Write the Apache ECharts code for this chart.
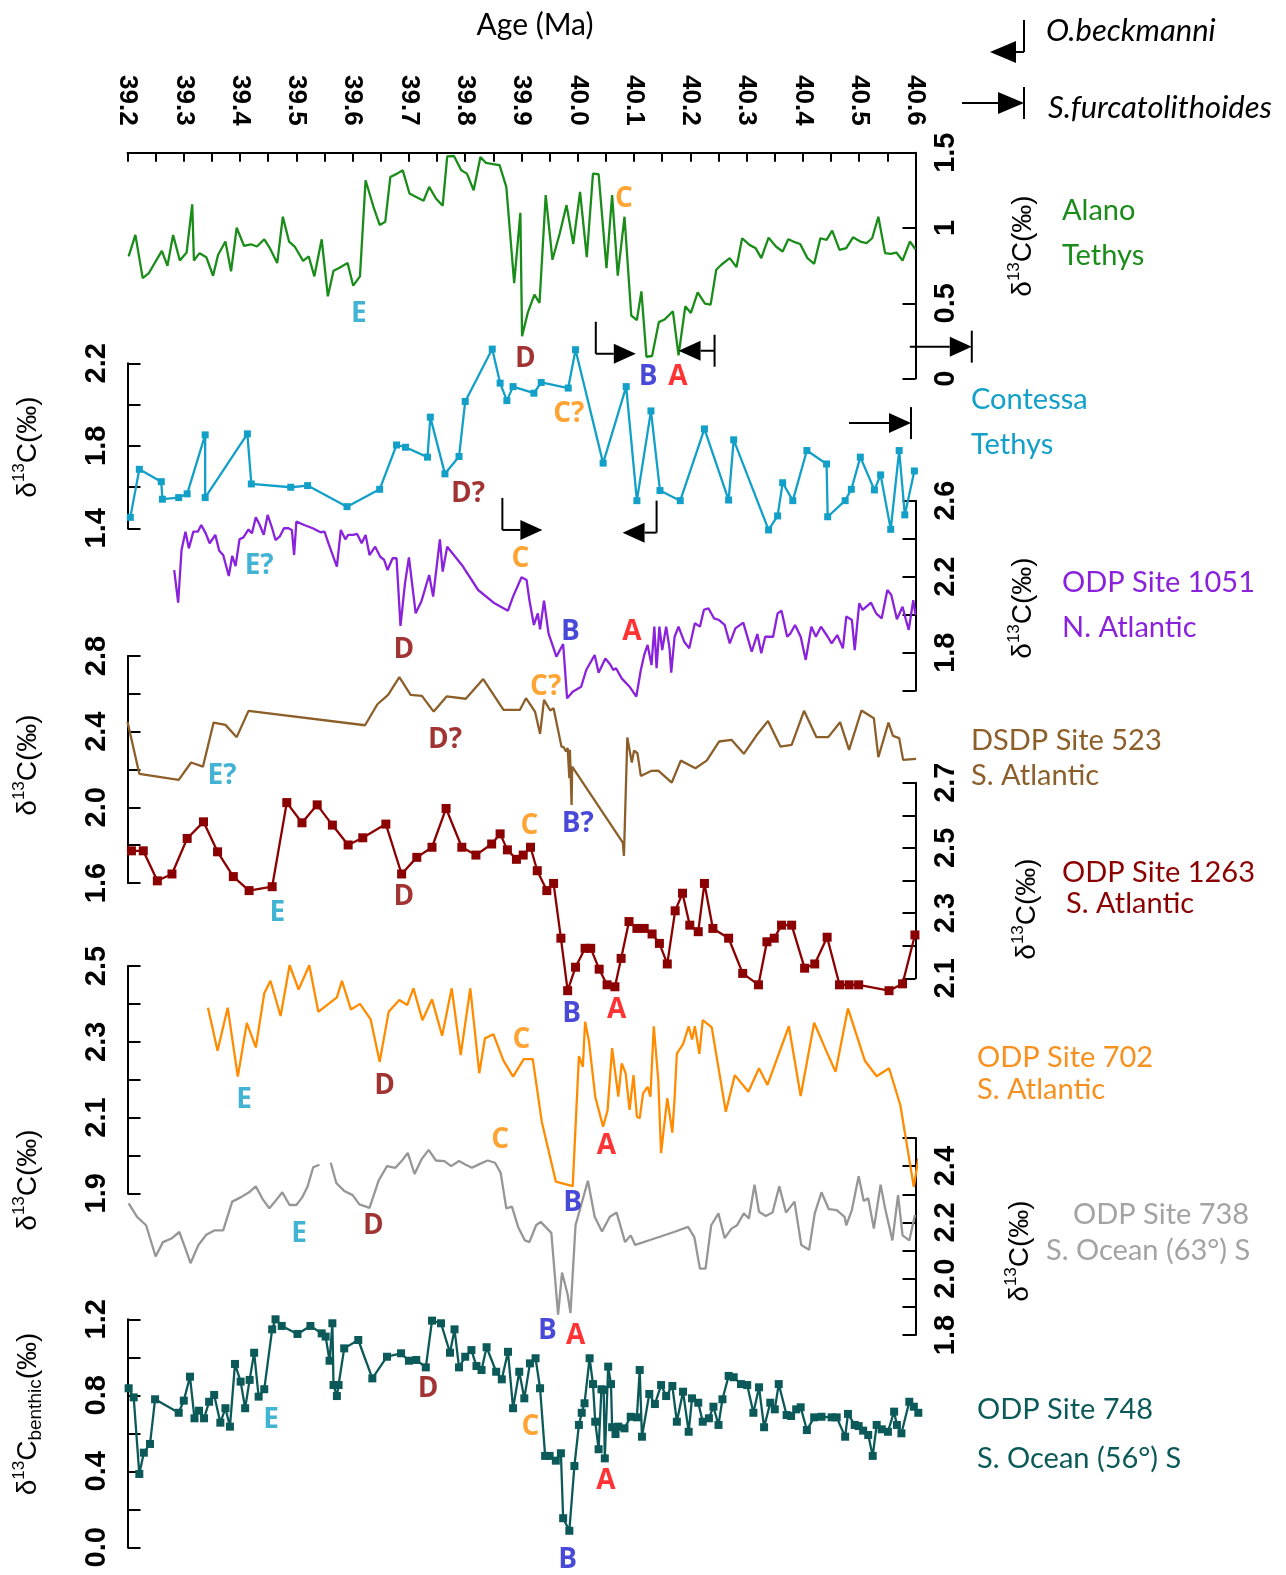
<!DOCTYPE html>
<html>
<head>
<meta charset="utf-8">
<title>Middle Eocene carbon isotope records</title>
<script src="https://cdn.jsdelivr.net/npm/echarts@6/dist/echarts.min.js"></script>
<style>
  html, body { margin: 0; padding: 0; background: #ffffff; }
  #chart { width: 1286px; height: 1575px; }
</style>
</head>
<body>
<div id="chart"></div>
<script>
// ---------------------------------------------------------------------------
// Data: age (Ma) and d13C (permil) for each site, top panel to bottom panel
// ---------------------------------------------------------------------------
const ageRange = [39.2, 40.6];

// Alano (Tethys)
const alanoAge = [39.202,39.214,39.227,39.238,39.261,39.271,39.281,39.293,39.305,39.315,
  39.318,39.328,39.340,39.352,39.361,39.374,39.384,39.394,39.407,39.419,
  39.430,39.443,39.453,39.466,39.476,39.487,39.497,39.512,39.522,39.532,
  39.545,39.556,39.566,39.576,39.591,39.601,39.613,39.623,39.637,39.648,
  39.658,39.667,39.679,39.689,39.701,39.712,39.726,39.736,39.748,39.760,
  39.768,39.780,39.793,39.803,39.815,39.827,39.837,39.852,39.861,39.873,
  39.887,39.898,39.901,39.911,39.923,39.932,39.943,39.955,39.968,39.980,
  39.992,40.004,40.016,40.027,40.037,40.051,40.061,40.071,40.083,40.095,
  40.105,40.113,40.122,40.132,40.144,40.154,40.169,40.179,40.191,40.201,
  40.213,40.226,40.236,40.246,40.255,40.270,40.282,40.292,40.305,40.316,
  40.326,40.339,40.352,40.364,40.374,40.383,40.395,40.408,40.420,40.431,
  40.442,40.452,40.465,40.477,40.489,40.502,40.513,40.523,40.534,40.546,
  40.556,40.566,40.577,40.590,40.600];
const alanoD13C = [0.811,0.954,0.667,0.701,0.848,0.749,0.954,0.784,0.837,1.157,
  0.784,0.833,0.806,0.683,0.822,0.910,0.712,1.002,0.881,0.892,
  0.877,0.925,0.866,0.767,1.075,0.910,0.877,0.782,0.811,0.679,
  0.925,0.546,0.716,0.734,0.767,0.617,0.679,1.317,1.141,1.020,
  1.042,1.339,1.361,1.383,1.229,1.207,1.181,1.273,1.196,1.148,
  1.476,1.478,1.383,1.361,1.251,1.472,1.432,1.423,1.417,1.273,
  0.634,1.101,0.282,0.436,0.557,0.502,1.218,0.789,0.965,1.152,
  0.894,1.240,0.806,1.361,1.357,0.734,1.218,0.683,1.075,0.419,
  0.388,0.579,0.145,0.150,0.375,0.392,0.447,0.154,0.480,0.436,
  0.573,0.498,0.491,0.723,0.756,0.800,0.740,0.932,0.888,0.866,
  0.800,0.936,0.877,0.844,0.925,0.910,0.894,0.800,0.762,0.932,
  0.921,0.983,0.855,0.866,0.938,0.910,0.899,0.932,1.075,0.833,
  0.828,0.837,0.784,0.910,0.859];

// Contessa (Tethys)
const contessaAge = [39.205,39.221,39.260,39.262,39.291,39.306,39.338,39.338,39.413,39.420,
  39.490,39.520,39.590,39.648,39.678,39.694,39.733,39.738,39.764,39.789,
  39.800,39.848,39.862,39.874,39.885,39.922,39.935,39.983,39.996,40.045,
  40.086,40.105,40.130,40.146,40.182,40.225,40.268,40.277,40.339,40.355,
  40.364,40.382,40.407,40.442,40.444,40.475,40.486,40.502,40.527,40.538,
  40.556,40.571,40.581,40.598];
const contessaD13C = [1.453,1.686,1.626,1.541,1.549,1.567,1.853,1.549,1.858,1.615,
  1.599,1.607,1.505,1.589,1.804,1.793,1.745,1.939,1.664,1.748,
  2.015,2.269,2.104,2.019,2.087,2.055,2.107,2.080,2.266,1.716,
  2.087,1.534,1.969,1.583,1.534,1.882,1.537,1.829,1.392,1.460,
  1.621,1.534,1.777,1.712,1.456,1.534,1.589,1.745,1.586,1.659,
  1.395,1.777,1.465,1.678];

// ODP Site 1051 (N. Atlantic)
const odp1051Age = [39.283,39.290,39.296,39.303,39.309,39.317,39.325,39.331,39.339,39.346,
  39.356,39.363,39.370,39.380,39.386,39.392,39.399,39.406,39.415,39.421,
  39.428,39.435,39.442,39.449,39.457,39.463,39.471,39.478,39.486,39.492,
  39.496,39.500,39.514,39.529,39.543,39.550,39.558,39.572,39.579,39.587,
  39.592,39.601,39.608,39.616,39.623,39.630,39.640,39.649,39.656,39.662,
  39.671,39.678,39.685,39.693,39.700,39.712,39.722,39.736,39.743,39.755,
  39.760,39.768,39.794,39.823,39.852,39.876,39.885,39.900,39.909,39.914,
  39.922,39.929,39.933,39.940,39.948,39.962,39.974,39.981,39.991,40.006,
  40.015,40.030,40.037,40.049,40.057,40.063,40.068,40.078,40.092,40.104,
  40.112,40.118,40.124,40.131,40.136,40.140,40.145,40.150,40.157,40.163,
  40.166,40.172,40.179,40.189,40.198,40.208,40.217,40.224,40.232,40.242,
  40.251,40.261,40.270,40.280,40.294,40.309,40.319,40.326,40.333,40.347,
  40.355,40.362,40.372,40.378,40.386,40.396,40.405,40.415,40.423,40.432,
  40.444,40.451,40.461,40.471,40.477,40.487,40.492,40.500,40.506,40.521,
  40.530,40.540,40.550,40.557,40.567,40.577,40.583,40.588,40.596,40.600];
const odp1051D13C = [2.235,2.063,2.341,2.437,2.349,2.437,2.437,2.472,2.428,2.376,
  2.420,2.337,2.314,2.204,2.309,2.256,2.397,2.407,2.449,2.428,
  2.513,2.472,2.420,2.525,2.455,2.393,2.414,2.455,2.455,2.446,
  2.314,2.490,2.472,2.455,2.434,2.437,2.367,2.253,2.446,2.397,
  2.420,2.420,2.425,2.376,2.420,2.314,2.358,2.305,2.288,2.235,
  2.297,2.297,1.941,2.165,2.302,2.007,2.069,2.209,2.095,2.397,
  2.227,2.358,2.262,2.130,2.060,2.021,2.095,2.197,2.183,2.077,
  1.946,2.007,1.923,2.074,1.902,1.779,1.846,1.560,1.595,1.621,
  1.709,1.788,1.695,1.770,1.741,1.709,1.718,1.665,1.621,1.569,
  1.709,1.788,1.841,1.735,1.937,1.718,1.937,1.814,1.937,1.823,
  1.695,1.884,1.937,1.858,1.823,1.955,1.937,2.025,2.034,1.981,
  1.972,1.946,1.849,1.928,1.958,1.805,1.898,1.797,1.884,1.884,
  2.007,2.021,1.884,1.902,1.946,1.884,1.762,1.937,1.884,1.937,
  1.884,1.849,1.893,1.823,1.990,1.972,1.814,2.060,2.025,2.063,
  2.007,1.981,2.130,2.104,1.976,2.042,1.972,1.920,2.077,1.999];

// DSDP Site 523 (S. Atlantic)
const dsdp523Age = [39.200,39.221,39.291,39.313,39.334,39.353,39.374,39.394,39.415,39.622,
  39.644,39.663,39.683,39.703,39.723,39.744,39.767,39.801,39.832,39.868,
  39.897,39.908,39.924,39.933,39.940,39.951,39.957,39.971,39.975,39.979,
  39.982,39.985,39.986,39.989,39.990,40.080,40.082,40.088,40.096,40.100,
  40.106,40.112,40.131,40.143,40.167,40.183,40.209,40.229,40.251,40.273,
  40.295,40.317,40.338,40.360,40.380,40.402,40.424,40.445,40.466,40.482,
  40.504,40.526,40.534,40.552,40.560,40.571,40.578,40.601];
const dsdp523D13C = [2.453,2.177,2.145,2.237,2.215,2.448,2.436,2.371,2.510,2.434,
  2.545,2.595,2.688,2.595,2.589,2.506,2.586,2.574,2.678,2.515,
  2.515,2.577,2.506,2.388,2.568,2.512,2.524,2.321,2.318,2.295,
  2.313,2.154,2.304,2.013,2.215,1.813,1.743,2.369,2.237,2.300,
  2.286,2.166,2.193,2.194,2.131,2.247,2.207,2.247,2.348,2.357,
  2.283,2.378,2.457,2.321,2.330,2.510,2.371,2.371,2.450,2.304,
  2.512,2.471,2.265,2.448,2.378,2.366,2.251,2.256];

// ODP Site 1263 (S. Atlantic)
const odp1263Age = [39.207,39.228,39.253,39.279,39.306,39.335,39.360,39.388,39.416,39.457,
  39.483,39.510,39.537,39.564,39.592,39.618,39.659,39.687,39.714,39.741,
  39.766,39.794,39.819,39.847,39.862,39.875,39.891,39.903,39.916,39.928,
  39.945,39.957,39.970,39.982,39.996,40.013,40.023,40.038,40.052,40.066,
  40.077,40.091,40.105,40.118,40.132,40.145,40.159,40.173,40.186,40.199,
  40.214,40.225,40.240,40.268,40.293,40.321,40.336,40.349,40.362,40.380,
  40.403,40.421,40.443,40.465,40.482,40.499,40.553,40.577,40.599];
const odp1263D13C = [2.491,2.491,2.399,2.420,2.529,2.580,2.488,2.412,2.369,2.381,
  2.639,2.577,2.632,2.570,2.509,2.531,2.573,2.420,2.471,2.502,
  2.621,2.502,2.478,2.512,2.543,2.494,2.465,2.478,2.502,2.430,
  2.369,2.391,2.223,2.062,2.134,2.192,2.192,2.128,2.080,2.074,
  2.161,2.274,2.253,2.253,2.236,2.207,2.144,2.307,2.361,2.263,
  2.243,2.391,2.253,2.223,2.115,2.080,2.212,2.223,2.263,2.263,
  2.131,2.144,2.226,2.080,2.080,2.080,2.062,2.083,2.233];

// ODP Site 702 (S. Atlantic)
const odp702Age = [39.343,39.360,39.378,39.396,39.412,39.428,39.443,39.454,39.472,39.488,
  39.504,39.523,39.539,39.572,39.581,39.597,39.613,39.632,39.648,39.664,
  39.683,39.697,39.708,39.724,39.741,39.759,39.776,39.792,39.809,39.825,
  39.835,39.850,39.868,39.885,39.904,39.920,39.936,39.961,39.991,40.002,
  40.009,40.013,40.020,40.031,40.045,40.053,40.061,40.072,40.078,40.085,
  40.092,40.099,40.105,40.110,40.116,40.124,40.129,40.135,40.143,40.148,
  40.159,40.168,40.172,40.176,40.187,40.197,40.203,40.208,40.216,40.222,
  40.238,40.263,40.279,40.303,40.322,40.337,40.375,40.396,40.420,40.442,
  40.458,40.480,40.510,40.531,40.553,40.573,40.597,40.605];
const odp702D13C = [2.390,2.276,2.390,2.208,2.350,2.285,2.428,2.461,2.368,2.502,
  2.438,2.502,2.379,2.417,2.461,2.385,2.400,2.359,2.247,2.379,
  2.410,2.397,2.441,2.357,2.412,2.316,2.441,2.265,2.441,2.217,
  2.309,2.320,2.250,2.208,2.254,2.254,2.089,1.931,1.919,2.262,
  2.234,2.353,2.300,2.155,2.076,2.120,2.283,2.155,2.243,2.217,
  2.120,2.212,2.102,2.098,2.164,2.181,2.155,2.341,2.199,2.006,
  2.151,2.060,2.151,2.269,2.294,2.341,2.306,2.341,2.268,2.357,
  2.338,2.115,2.212,2.168,2.230,2.186,2.341,2.157,2.350,2.274,
  2.221,2.388,2.250,2.209,2.230,2.133,1.917,1.992];

// ODP Site 738 (S. Ocean); null marks the break in the record
const odp738Age = [39.202,39.217,39.233,39.250,39.263,39.279,39.292,39.302,39.312,39.326,
  39.340,39.355,39.370,39.386,39.401,39.416,39.428,39.440,39.452,39.462,
  39.475,39.488,39.500,39.510,39.520,39.530,39.541,39.551,39.561,39.571,39.585,
  39.600,39.612,39.630,39.646,39.661,39.676,39.689,39.698,39.710,39.722,
  39.735,39.748,39.763,39.775,39.789,39.801,39.812,39.826,39.840,39.853,
  39.863,39.873,39.883,39.894,39.906,39.914,39.926,39.934,39.953,39.965,
  39.972,39.982,39.987,39.996,40.018,40.030,40.043,40.057,40.069,40.084,
  40.094,40.102,40.135,40.171,40.196,40.207,40.217,40.227,40.237,40.250,
  40.261,40.273,40.283,40.295,40.304,40.314,40.322,40.334,40.346,40.358,
  40.370,40.385,40.397,40.411,40.421,40.433,40.446,40.460,40.474,40.477,
  40.487,40.499,40.508,40.516,40.526,40.538,40.546,40.559,40.569,40.577,
  40.589,40.599];
const odp738D13C = [2.268,2.220,2.190,2.079,2.130,2.144,2.166,2.112,2.055,2.120,
  2.156,2.172,2.172,2.274,2.289,2.307,2.328,2.283,2.250,2.274,
  2.307,2.262,2.262,2.288,2.328,2.396,2.405,null,2.412,2.340,2.312,
  2.297,2.264,2.252,2.348,2.400,2.394,2.423,2.447,2.372,2.423,
  2.458,2.420,2.418,2.400,2.418,2.405,2.394,2.408,2.420,2.412,
  2.376,2.250,2.256,2.184,2.136,2.130,2.190,2.202,2.163,1.872,
  2.022,1.944,1.878,2.190,2.348,2.220,2.168,2.220,2.235,2.130,
  2.154,2.120,2.142,2.166,2.184,2.148,2.036,2.036,2.190,2.232,
  2.144,2.178,2.190,2.232,2.214,2.334,2.238,2.223,2.235,2.328,
  2.235,2.274,2.120,2.103,2.232,2.307,2.247,2.244,2.220,2.190,
  2.244,2.364,2.276,2.286,2.178,2.334,2.250,2.136,2.297,2.154,
  2.136,2.226];

// ODP Site 748 (S. Ocean), benthic
const odp748Age = [39.202,39.211,39.221,39.229,39.240,39.249,39.291,39.300,39.311,39.319,
  39.327,39.336,39.345,39.354,39.365,39.374,39.382,39.391,39.401,39.409,
  39.417,39.425,39.433,39.443,39.457,39.463,39.474,39.502,39.525,39.545,
  39.552,39.559,39.564,39.566,39.572,39.575,39.585,39.610,39.635,39.661,
  39.686,39.700,39.713,39.730,39.741,39.757,39.773,39.781,39.789,39.800,
  39.811,39.820,39.829,39.838,39.855,39.865,39.876,39.885,39.896,39.905,
  39.915,39.925,39.933,39.942,39.950,39.961,39.970,39.974,39.985,39.994,
  40.002,40.007,40.012,40.021,40.027,40.031,40.037,40.042,40.046,40.048,
  40.054,40.059,40.061,40.067,40.072,40.083,40.094,40.105,40.110,40.114,
  40.127,40.137,40.148,40.157,40.168,40.176,40.187,40.197,40.203,40.214,
  40.222,40.233,40.241,40.250,40.257,40.268,40.277,40.290,40.301,40.312,
  40.322,40.331,40.342,40.350,40.357,40.371,40.379,40.388,40.396,40.407,
  40.420,40.433,40.451,40.460,40.475,40.480,40.492,40.499,40.507,40.516,
  40.524,40.531,40.540,40.551,40.562,40.567,40.575,40.589,40.597,40.605];
const odp748D13C = [0.837,0.789,0.386,0.498,0.544,0.779,0.708,0.772,0.898,0.679,
  0.719,0.679,0.766,0.802,0.656,0.732,0.635,0.965,0.872,0.732,
  0.881,1.024,0.793,0.832,1.147,1.200,1.165,1.123,1.165,1.126,
  1.109,0.982,1.179,0.854,0.796,0.854,1.047,1.091,0.889,1.003,
  1.021,0.982,0.986,0.947,1.193,1.179,1.024,1.147,0.947,1.003,
  1.038,0.954,0.933,1.053,0.924,0.884,1.029,0.732,0.924,0.784,
  0.968,0.995,0.837,0.481,0.481,0.456,0.495,0.153,0.087,0.428,
  0.644,0.708,0.758,0.995,0.859,0.661,0.516,0.832,0.828,0.468,
  0.951,0.859,0.632,0.596,0.635,0.626,0.687,0.684,0.933,0.582,
  0.807,0.754,0.854,0.796,0.849,0.661,0.819,0.608,0.784,0.761,
  0.661,0.679,0.740,0.644,0.779,0.902,0.895,0.859,0.854,0.708,
  0.842,0.632,0.761,0.726,0.859,0.696,0.691,0.726,0.737,0.617,
  0.684,0.687,0.684,0.684,0.582,0.702,0.644,0.638,0.614,0.591,
  0.481,0.644,0.621,0.608,0.714,0.644,0.600,0.766,0.740,0.708];

// Tick labels shown on each d13C axis
const alanoTicks = ['0', '0.5', '1', '1.5'];
const contessaTicks = ['1.4', '1.8', '2.2'];
const odp1051Ticks = ['1.8', '2.2', '2.6'];
const dsdp523Ticks = ['1.6', '2.0', '2.4', '2.8'];
const odp1263Ticks = ['2.1', '2.3', '2.5', '2.7'];
const odp702Ticks = ['1.9', '2.1', '2.3', '2.5'];
const odp738Ticks = ['1.8', '2.0', '2.2', '2.4'];
const odp748Ticks = ['0.0', '0.4', '0.8', '1.2'];

// Event labels A-E: [label, age, d13C]
const alanoEvents = [['E',39.611,0.426],['D',39.907,0.132],['C',40.082,1.193],['B',40.125,0.012],['A',40.178,0.012]];
const contessaEvents = [['C?',39.984,1.955],['D?',39.805,1.565]];
const odp1051Events = [['E?',39.434,2.258],['C',39.898,2.295],['D',39.691,1.814],['B',39.987,1.909],['A',40.096,1.909]];
const dsdp523Events = [['C?',39.943,2.636],['D?',39.764,2.354],['E?',39.368,2.163],['B?',40.000,1.913]];
const odp1263Events = [['C',39.914,2.567],['E',39.466,2.299],['D',39.691,2.349],['B',39.989,1.991],['A',40.069,2.004]];
const odp702Events = [['C',39.900,2.305],['E',39.407,2.146],['D',39.657,2.183],['A',40.051,2.024],['B',39.991,1.873]];
const odp738Events = [['C',39.862,2.493],['E',39.505,2.160],['D',39.637,2.186],['B',39.946,1.814],['A',39.996,1.795]];
const odp748Events = [['E',39.455,0.672],['D',39.734,0.831],['C',39.916,0.635],['A',40.050,0.349],['B',39.982,-0.068]];

// Nannofossil datum arrows: [age, level, kind]
// L = base bar with arrow to the right, J / K = arrow to the left, T = arrow into a bar
const alanoDatums = [[40.032,0.165,'L'],[40.243,0.185,'K'],[40.700,0.212,'T']];
const contessaDatums = [[40.592,1.910,'T'],[39.866,1.392,'L'],[40.140,1.379,'J']];

// ---------------------------------------------------------------------------
// Layout and styling
// ---------------------------------------------------------------------------
const PLOT_LEFT = 127.5, PLOT_WIDTH = 788;
const eventColors = { E: '#14a0c8', D: '#8b0000', C: '#ff8c00', B: '#1c1cd0', A: '#ff0000' };

const panels = [
  { age: alanoAge, val: alanoD13C, color: '#1a8c1a', min: 0, max: 1.5, step: 0.5, ticks: alanoTicks, events: alanoEvents, datums: alanoDatums,
    top: 152.7, bottom: 378.6, side: 'right' },
  { age: contessaAge, val: contessaD13C, color: '#12a0c8', min: 1.4, max: 2.2, step: 0.2, ticks: contessaTicks, events: contessaEvents, datums: contessaDatums,
    top: 363.3, bottom: 528.3, side: 'left', symbolSize: 7 },
  { age: odp1051Age, val: odp1051D13C, color: '#8a22dc', min: 1.6, max: 2.6, step: 0.2, ticks: odp1051Ticks, events: odp1051Events,
    top: 500.7, bottom: 690.7, side: 'right' },
  { age: dsdp523Age, val: dsdp523D13C, color: '#8c5e2a', min: 1.6, max: 2.8, step: 0.2, ticks: dsdp523Ticks, events: dsdp523Events,
    top: 656, bottom: 883, side: 'left' },
  { age: odp1263Age, val: odp1263D13C, color: '#8b0000', min: 2.1, max: 2.7, step: 0.1, ticks: odp1263Ticks, events: odp1263Events,
    top: 782.7, bottom: 978.3, side: 'right', symbolSize: 9 },
  { age: odp702Age, val: odp702D13C, color: '#ff8c00', min: 1.9, max: 2.5, step: 0.1, ticks: odp702Ticks, events: odp702Events,
    top: 966, bottom: 1193.3, side: 'left' },
  { age: odp738Age, val: odp738D13C, color: '#969696', min: 1.8, max: 2.5, step: 0.1, ticks: odp738Ticks, events: odp738Events,
    top: 1138, bottom: 1335, side: 'right' },
  { age: odp748Age, val: odp748D13C, color: '#0b5959', min: 0, max: 1.2, step: 0.2, ticks: odp748Ticks, events: odp748Events,
    top: 1319.3, bottom: 1547.3, side: 'left', symbolSize: 8 }
];

function tickLabel(value, list) {
  for (const t of list) {
    if (Math.abs(parseFloat(t) - value) < 1e-6) return t;
  }
  return '';
}

// Datum arrow drawn around a pixel anchor
function datumShapes(px, py, kind, big) {
  const head = big ? 26 : 22, half = big ? 11 : 10, bar = 32;
  const len = { L: 40, J: 34, K: 36, T: 62 }[kind];
  const stroke = { stroke: '#000', lineWidth: 2 };
  const seg = (x1, y1, x2, y2) => ({ type: 'line', shape: { x1, y1, x2, y2 }, style: stroke });
  const tip = (tx, ty, dir) => ({
    type: 'polygon',
    shape: { points: [[tx, ty], [tx - dir * head, ty - half], [tx - dir * head, ty + half]] },
    style: { fill: '#000' }
  });
  const out = [];
  if (kind === 'L') {
    out.push(seg(px, py - bar, px, py), seg(px, py, px + len - head, py), tip(px + len, py, 1));
  } else if (kind === 'J') {
    out.push(seg(px, py - bar, px, py), seg(px, py, px - len + head, py), tip(px - len, py, -1));
  } else if (kind === 'K') {
    out.push(seg(px, py - bar / 2, px, py + bar / 2), seg(px, py, px - len + head, py), tip(px - len, py, -1));
  } else {
    out.push(seg(px, py - bar / 2, px, py + bar / 2), seg(px - len, py, px - head, py), tip(px, py, 1));
  }
  return out;
}

const grid = [], xAxis = [], yAxis = [], series = [];

panels.forEach((p, i) => {
  grid.push({ left: PLOT_LEFT, width: PLOT_WIDTH, top: p.top, height: p.bottom - p.top, outerBoundsMode: 'none' });

  if (i === 0) {
    xAxis.push({
      type: 'value', gridIndex: 0, position: 'top', min: ageRange[0], max: ageRange[1], interval: 0.1,
      axisLine: { show: true, onZero: false, lineStyle: { color: '#000', width: 2 } },
      axisTick: { show: true, inside: true, length: 9, lineStyle: { color: '#000', width: 2 } },
      minorTick: { show: true, splitNumber: 2, length: 9, lineStyle: { color: '#000', width: 2 } },
      splitLine: { show: false },
      axisLabel: {
        rotate: 90, margin: 27, color: '#000', fontFamily: 'Liberation Sans', fontWeight: 'bold', fontSize: 26,
        showMinLabel: true, showMaxLabel: true, formatter: v => v.toFixed(1)
      }
    });
  } else {
    xAxis.push({ type: 'value', gridIndex: i, min: ageRange[0], max: ageRange[1], show: false,
      axisLine: { onZero: false } });
  }

  yAxis.push({
    type: 'value', gridIndex: i, position: p.side, min: p.min, max: p.max, interval: p.step,
    axisLine: { show: true, onZero: false, lineStyle: { color: '#000', width: 2 } },
    axisTick: { show: true, inside: true, length: 13, lineStyle: { color: '#000', width: 2 } },
    splitLine: { show: false },
    axisLabel: {
      rotate: 90, margin: 16, color: '#000', fontFamily: 'Liberation Sans', fontWeight: 'bold', fontSize: 29,
      showMinLabel: true, showMaxLabel: true, formatter: v => tickLabel(v, p.ticks)
    }
  });

  series.push({
    type: 'line', xAxisIndex: i, yAxisIndex: i,
    data: p.age.map((a, k) => [a, p.val[k] === null ? '-' : p.val[k]]),
    showSymbol: !!p.symbolSize, symbol: 'rect', symbolSize: p.symbolSize || 0,
    lineStyle: { color: p.color, width: 2.3 }, itemStyle: { color: p.color },
    connectNulls: false, clip: false, silent: true, z: 2
  });

  series.push({
    type: 'scatter', xAxisIndex: i, yAxisIndex: i, clip: false, silent: true, z: 4,
    symbol: 'rect', symbolSize: 1, itemStyle: { color: 'rgba(0,0,0,0)' },
    data: p.events.map(e => ({
      name: e[0], value: [e[1], e[2]],
      label: { color: eventColors[e[0][0]] }
    })),
    label: {
      show: true, position: 'inside', formatter: '{b}',
      fontFamily: 'Open Sans', fontWeight: 'bold', fontSize: 28
    }
  });

  if (p.datums) {
    const datums = p.datums;
    series.push({
      type: 'custom', xAxisIndex: i, yAxisIndex: i, clip: false, silent: true, z: 5,
      data: datums.map(d => [d[0], d[1]]),
      renderItem: (params, api) => {
        const pt = api.coord([api.value(0), api.value(1)]);
        return { type: 'group', children: datumShapes(pt[0], pt[1], datums[params.dataIndex][2], false) };
      }
    });
  }
});

// Axis titles, site names, legend
const titleRich = {
  d: { fontFamily: 'Liberation Sans', fontSize: 28, lineHeight: 34, fill: '#000' },
  s: { fontFamily: 'Liberation Sans', fontSize: 17, lineHeight: 17, verticalAlign: 'top', fill: '#000' },
  b: { fontFamily: 'Liberation Sans', fontSize: 19, lineHeight: 19, verticalAlign: 'bottom', fill: '#000' }
};
const d13cTitle = '{d|δ}{s|13}{d|C(‰)}';
const benthicTitle = '{d|δ}{s|13}{d|C}{b|benthic}{d|(‰)}';

function vTitle(x, y, text) {
  return {
    type: 'text', x, y, rotation: Math.PI / 2, silent: true,
    style: { text, rich: titleRich, align: 'center', verticalAlign: 'middle' }
  };
}
function siteText(x, y, text, color) {
  return {
    type: 'text', x, y, silent: true,
    style: { text, fill: color, fontFamily: 'Lato', fontSize: 29, align: 'left', verticalAlign: 'middle' }
  };
}
function legendArrow(x, y, kind) {
  return { type: 'group', silent: true, children: datumShapes(x, y, kind, true) };
}

const graphic = [
  { type: 'text', x: 535, y: 25, silent: true,
    style: { text: 'Age (Ma)', fill: '#000', fontFamily: 'Lato', fontSize: 30, align: 'center', verticalAlign: 'middle' } },
  legendArrow(1024, 52, 'J'),
  legendArrow(1024, 103, 'T'),
  { type: 'text', x: 1046, y: 31, silent: true,
    style: { text: 'O.beckmanni', fill: '#000', fontFamily: 'Lato', fontStyle: 'italic', fontSize: 31, align: 'left', verticalAlign: 'middle' } },
  { type: 'text', x: 1048, y: 108, silent: true,
    style: { text: 'S.furcatolithoides', fill: '#000', fontFamily: 'Lato', fontStyle: 'italic', fontSize: 31, align: 'left', verticalAlign: 'middle' } },

  vTitle(1023, 246, d13cTitle),
  vTitle(28, 447, d13cTitle),
  vTitle(1023, 608, d13cTitle),
  vTitle(28, 765, d13cTitle),
  vTitle(1027, 909, d13cTitle),
  vTitle(28, 1180, d13cTitle),
  vTitle(1020, 1251, d13cTitle),
  vTitle(28, 1414, benthicTitle),

  siteText(1062, 211, 'Alano', '#1a8c1a'),
  siteText(1062, 256, 'Tethys', '#1a8c1a'),
  siteText(971, 400, 'Contessa', '#12a0c8'),
  siteText(971, 445, 'Tethys', '#12a0c8'),
  siteText(1062, 583, 'ODP Site 1051', '#8a22dc'),
  siteText(1062, 628, 'N. Atlantic', '#8a22dc'),
  siteText(971, 741, 'DSDP Site 523', '#8c5e2a'),
  siteText(971, 776, 'S. Atlantic', '#8c5e2a'),
  siteText(1062, 873, 'ODP Site 1263', '#8b0000'),
  siteText(1066, 904, 'S. Atlantic', '#8b0000'),
  siteText(977, 1058, 'ODP Site 702', '#f7901e'),
  siteText(977, 1090, 'S. Atlantic', '#f7901e'),
  siteText(1073, 1215, 'ODP Site 738', '#a3a3a3'),
  siteText(1046, 1251, 'S. Ocean (63°) S', '#a3a3a3'),
  siteText(977, 1410, 'ODP Site 748', '#0b5959'),
  siteText(977, 1459, 'S. Ocean (56°) S', '#0b5959')
];

const chart = echarts.init(document.getElementById('chart'), null, { renderer: 'canvas' });
chart.setOption({
  backgroundColor: '#ffffff',
  animation: false,
  tooltip: { show: false },
  grid, xAxis, yAxis, series, graphic
});
</script>
</body>
</html>
